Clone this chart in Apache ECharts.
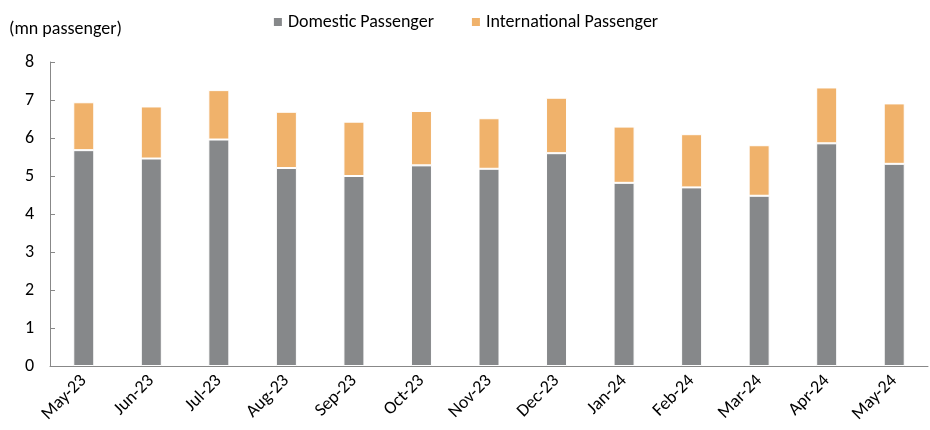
<!DOCTYPE html>
<html><head><meta charset="utf-8">
<script src="https://cdn.jsdelivr.net/npm/echarts@6/dist/echarts.min.js"></script>
<style>html,body{margin:0;padding:0;background:#fff}#c{width:930px;height:430px}</style>
</head><body><div id="c"></div>
<script>
const categories = ['May-23','Jun-23','Jul-23','Aug-23','Sep-23','Oct-23','Nov-23','Dec-23','Jan-24','Feb-24','Mar-24','Apr-24','May-24'];
const domestic = [5.68,5.46,5.96,5.21,5.00,5.28,5.19,5.60,4.82,4.70,4.48,5.86,5.32];
const international = [1.26,1.37,1.30,1.48,1.43,1.43,1.33,1.46,1.48,1.40,1.33,1.47,1.59];
const yTicks = [0,1,2,3,4,5,6,7,8];

const font = 'Carlito, Calibri, Lato, "Liberation Sans", sans-serif';
const chart = echarts.init(document.getElementById('c'));
chart.setOption({
  animation: false,
  textStyle: {fontFamily: font},
  legend: {
    top: 8, left: 'center', itemWidth: 10, itemHeight: 10, itemGap: 36,
    icon: 'rect',
    textStyle: {fontFamily: font, fontSize: 18, color: '#000'},
    data: ['Domestic Passenger','International Passenger']
  },
  grid: {left: 50, right: 2, top: 62, bottom: 64, containLabel: false},
  xAxis: {
    type: 'category', data: categories,
    axisLine: {lineStyle: {color: '#888', width: 1}},
    axisTick: {inside: true, length: 5, lineStyle: {color: '#888'}},
    axisLabel: {rotate: 45, fontSize: 18, color: '#000', fontFamily: font, margin: 12, interval: 0}
  },
  yAxis: {
    type: 'value', min: yTicks[0], max: yTicks[yTicks.length-1], interval: 1,
    name: '(mn passenger)', nameLocation: 'end', nameGap: 24,
    nameTextStyle: {fontSize: 18, color: '#000', fontFamily: font, align: 'left', padding: [0,0,0,-41]},
    splitLine: {show: false},
    axisLine: {show: true, lineStyle: {color: '#888'}},
    axisTick: {show: true, inside: true, length: 5, lineStyle: {color: '#888'}},
    axisLabel: {fontSize: 18, color: '#000', fontFamily: font, margin: 16}
  },
  series: [
    {name: 'Domestic Passenger', type: 'bar', stack: 'a', data: domestic, barWidth: 21,
     itemStyle: {color: '#86888A', borderColor: '#fff', borderWidth: 1}},
    {name: 'International Passenger', type: 'bar', stack: 'a', data: international, barWidth: 21,
     itemStyle: {color: '#F0B26B', borderColor: '#fff', borderWidth: 1}}
  ]
});
</script></body></html>
